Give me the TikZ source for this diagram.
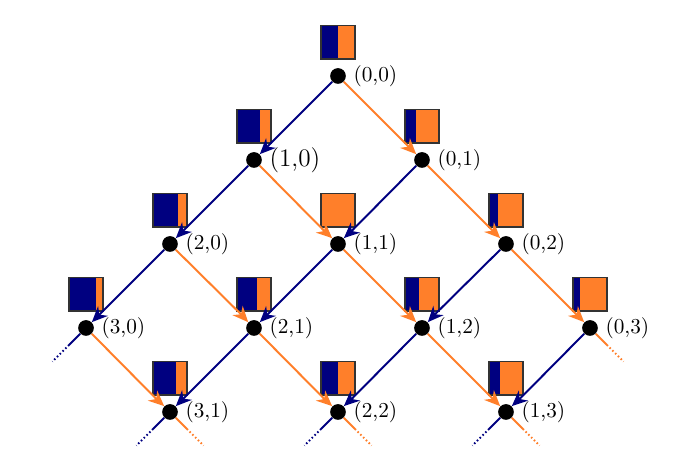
\documentclass[tikz,border=0pt]{standalone}
\usepackage{xcolor}
\usepackage{amsmath}
\usepackage{tikz}
\usetikzlibrary{positioning,arrows.meta}
\definecolor{urnblue}{RGB}{0,0,128}
\definecolor{urnorange}{RGB}{255,127,42}

\begin{document}
\begin{tikzpicture}[
  dot/.style={circle,fill=black,inner sep=0pt,minimum size=0.28cm},
  lbl/.style={inner sep=2pt,font=\fontsize{10.8}{13}\selectfont},
  urn/.style={draw=black!80,line width=0.8pt,fill=urnorange,inner sep=0pt,minimum size=0.6cm,
    path picture={\fill[urnblue] (path picture bounding box.south west) rectangle ([xshift=#1*0.6cm]path picture bounding box.north west);}},
  blueedge/.style={urnblue,line width=1pt,-{Stealth[length=8pt,width=7pt]}},
  orangeedge/.style={urnorange,line width=1pt,-{Stealth[length=8pt,width=7pt]}},
  bluestub/.style={urnblue,line width=1pt},
  orangestub/.style={urnorange,line width=1pt},
  dots/.style={dash pattern=on 0.8pt off 1.2pt}
]
\useasboundingbox (-6.036,1.357) rectangle (6.036,-7.089);
% states
\node[dot] (d00) at (0,0) {};
\node[dot] (d10) at (-1.5,-1.5) {};
\node[dot] (d01) at (1.5,-1.5) {};
\node[dot] (d20) at (-3,-3) {};
\node[dot] (d11) at (0,-3) {};
\node[dot] (d02) at (3,-3) {};
\node[dot] (d30) at (-4.5,-4.5) {};
\node[dot] (d21) at (-1.5,-4.5) {};
\node[dot] (d12) at (1.5,-4.5) {};
\node[dot] (d03) at (4.5,-4.5) {};
\node[dot] (d31) at (-3,-6) {};
\node[dot] (d22) at (0,-6) {};
\node[dot] (d13) at (3,-6) {};
% labels
\node[lbl,right=1.5pt of d00] (l00) {(0,0)};
\node[lbl,right=1.5pt of d10,font=\fontsize{12.8}{15}\selectfont] (l10) {(1,0)};
\node[lbl,right=1.5pt of d01] (l01) {(0,1)};
\node[lbl,right=1.5pt of d20] (l20) {(2,0)};
\node[lbl,right=1.5pt of d11] (l11) {(1,1)};
\node[lbl,right=1.5pt of d02] (l02) {(0,2)};
\node[lbl,right=1.5pt of d30] (l30) {(3,0)};
\node[lbl,right=1.5pt of d21] (l21) {(2,1)};
\node[lbl,right=1.5pt of d12] (l12) {(1,2)};
\node[lbl,right=1.5pt of d03] (l03) {(0,3)};
\node[lbl,right=1.5pt of d31] (l31) {(3,1)};
\node[lbl,right=1.5pt of d22] (l22) {(2,2)};
\node[lbl,right=1.5pt of d13] (l13) {(1,3)};
% urns
\node[urn=1/2,above=0.14cm of d00] (u00) {};
\node[urn=2/3,above=0.14cm of d10] (u10) {};
\node[urn=1/3,above=0.14cm of d01] (u01) {};
\node[urn=3/4,above=0.14cm of d20] (u20) {};
\node[urn=0,above=0.14cm of d11] (u11) {};
\node[urn=1/4,above=0.14cm of d02] (u02) {};
\node[urn=4/5,above=0.14cm of d30] (u30) {};
\node[urn=3/5,above=0.14cm of d21] (u21) {};
\node[urn=2/5,above=0.14cm of d12] (u12) {};
\node[urn=1/5,above=0.14cm of d03] (u03) {};
\node[urn=2/3,above=0.14cm of d31] (u31) {};
\node[urn=1/2,above=0.14cm of d22] (u22) {};
\node[urn=1/3,above=0.14cm of d13] (u13) {};
% moves
\draw[blueedge] (d00) -- (d10);
\draw[orangeedge] (d00) -- (d01);
\draw[blueedge] (d10) -- (d20);
\draw[orangeedge] (d10) -- (d11);
\draw[blueedge] (d01) -- (d11);
\draw[orangeedge] (d01) -- (d02);
\draw[blueedge] (d20) -- (d30);
\draw[orangeedge] (d20) -- (d21);
\draw[blueedge] (d11) -- (d21);
\draw[orangeedge] (d11) -- (d12);
\draw[blueedge] (d02) -- (d12);
\draw[orangeedge] (d02) -- (d03);
\draw[orangeedge] (d30) -- (d31);
\draw[blueedge] (d21) -- (d31);
\draw[orangeedge] (d21) -- (d22);
\draw[blueedge] (d12) -- (d22);
\draw[orangeedge] (d12) -- (d13);
\draw[blueedge] (d03) -- (d13);
% loose ends
\coordinate (m30) at (-4.8,-4.8); \coordinate (e30) at (-5.1,-5.1);
\coordinate (m03) at (4.8,-4.8);  \coordinate (e03) at (5.1,-5.1);
\coordinate (b31) at (-3.3,-6.3); \coordinate (f31) at (-3.6,-6.6);
\coordinate (o31) at (-2.7,-6.3); \coordinate (g31) at (-2.4,-6.6);
\coordinate (b22) at (-0.3,-6.3); \coordinate (f22) at (-0.6,-6.6);
\coordinate (o22) at (0.3,-6.3);  \coordinate (g22) at (0.6,-6.6);
\coordinate (b13) at (2.7,-6.3);  \coordinate (f13) at (2.4,-6.6);
\coordinate (o13) at (3.3,-6.3);  \coordinate (g13) at (3.6,-6.6);
\draw[bluestub] (d30) -- (m30); \draw[bluestub,dots] (m30) -- (e30);
\draw[orangestub] (d03) -- (m03); \draw[orangestub,dots] (m03) -- (e03);
\draw[bluestub] (d31) -- (b31); \draw[bluestub,dots] (b31) -- (f31);
\draw[orangestub] (d31) -- (o31); \draw[orangestub,dots] (o31) -- (g31);
\draw[bluestub] (d22) -- (b22); \draw[bluestub,dots] (b22) -- (f22);
\draw[orangestub] (d22) -- (o22); \draw[orangestub,dots] (o22) -- (g22);
\draw[bluestub] (d13) -- (b13); \draw[bluestub,dots] (b13) -- (f13);
\draw[orangestub] (d13) -- (o13); \draw[orangestub,dots] (o13) -- (g13);
\end{tikzpicture}
\end{document}
